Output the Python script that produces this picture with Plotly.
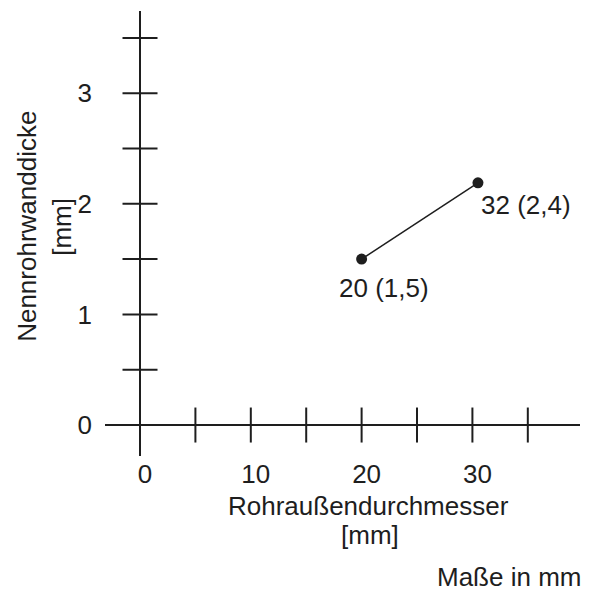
import plotly.graph_objects as go

# data
pipe_od = [20, 30.5]          # Rohraußendurchmesser [mm] (plotted position)
wall = [1.5, 2.19]            # Nennrohrwanddicke [mm]
point_labels = ["20 (1,5)", "32 (2,4)"]

x_ticks = [5, 10, 15, 20, 25, 30, 35]
y_ticks = [0.5, 1, 1.5, 2, 2.5, 3, 3.5]
x_ticklabels = [0, 10, 20, 30]
y_ticklabels = [0, 1, 2, 3]

FONT = "Liberation Sans, Arial, sans-serif"
INK = "#1e1e1e"
FS = 26

fig = go.Figure()

# tick marks crossing the axes
fig.add_trace(go.Scatter(
    x=x_ticks, y=[0] * len(x_ticks), mode="markers",
    marker=dict(symbol="line-ns", size=25, line=dict(width=2, color=INK)),
    hoverinfo="skip", showlegend=False))
fig.add_trace(go.Scatter(
    x=[0] * len(y_ticks), y=y_ticks, mode="markers",
    marker=dict(symbol="line-ew", size=25, line=dict(width=2, color=INK)),
    hoverinfo="skip", showlegend=False))

# the data line
fig.add_trace(go.Scatter(
    x=pipe_od, y=wall, mode="lines+markers",
    line=dict(color=INK, width=1.5),
    marker=dict(color=INK, size=11),
    showlegend=False))

# point labels
offsets = [dict(xanchor="center", yanchor="top", xshift=22, yshift=-12),
           dict(xanchor="left", yanchor="top", xshift=1, yshift=-5)]
for x, y, t, o in zip(pipe_od, wall, point_labels, offsets):
    fig.add_annotation(x=x, y=y, text=t, showarrow=False,
                       font=dict(family=FONT, size=FS, color=INK), **o)

def txt(text, x, y, xshift=0, yshift=0, angle=0, xanchor="center"):
    fig.add_annotation(xref="paper", yref="paper", x=x, y=y, text=text,
                       showarrow=False, textangle=angle,
                       xanchor=xanchor, yanchor="middle",
                       xshift=xshift, yshift=yshift,
                       font=dict(family=FONT, size=FS, color=INK))

# axis titles and note
txt("Rohraußendurchmesser", 0.554, 0, yshift=-50)
txt("[mm]", 0.558, 0, yshift=-79)
txt("Nennrohrwanddicke", 0, 0.515, xshift=-78, angle=-90)
txt("[mm]", 0, 0.515, xshift=-43, angle=-90)
txt("Maße in mm", 1, 0, xshift=3, yshift=-121, xanchor="right")

fig.update_xaxes(range=[-3.16, 39.71], showgrid=False, showline=False,
                 zeroline=True, zerolinecolor=INK, zerolinewidth=2,
                 tickvals=x_ticklabels, ticks="", ticklabelshift=5,
                 ticklabelstandoff=0,
                 tickfont=dict(family=FONT, size=FS, color=INK))
fig.update_yaxes(range=[-0.28, 3.743], showgrid=False, showline=False,
                 zeroline=True, zerolinecolor=INK, zerolinewidth=2,
                 tickvals=y_ticklabels, ticks="", ticklabelstandoff=12,
                 tickfont=dict(family=FONT, size=FS, color=INK))

fig.update_layout(width=591, height=589,
                  margin=dict(l=97, r=19, t=3, b=141),
                  plot_bgcolor="white", paper_bgcolor="white")

fig.write_html("out.html")
